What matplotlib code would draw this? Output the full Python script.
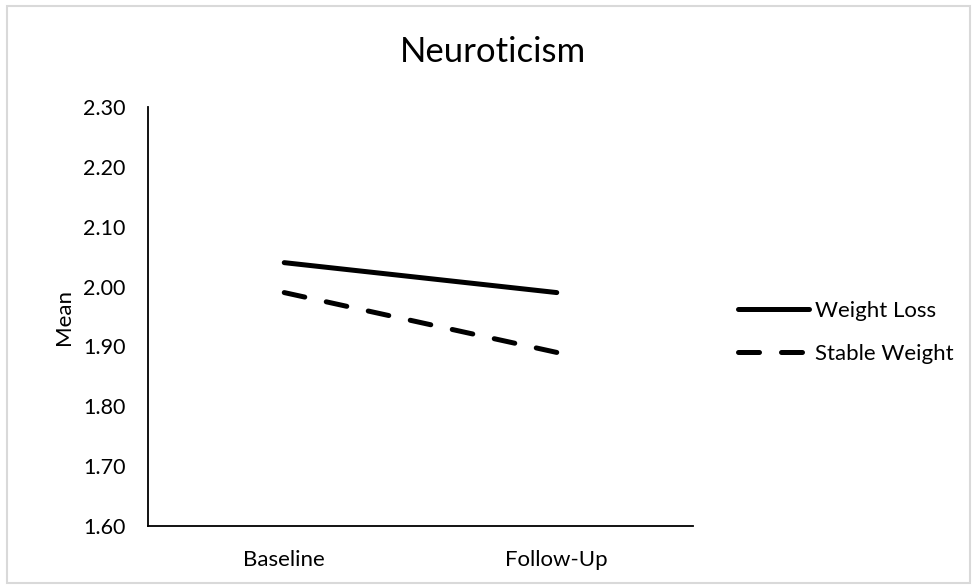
import matplotlib
matplotlib.use("Agg")
import matplotlib.pyplot as plt
from matplotlib.patches import Rectangle

# data
times = ["Baseline", "Follow-Up"]
weight_loss = [2.04, 1.99]
stable_weight = [1.99, 1.89]
y_ticks = [1.60, 1.70, 1.80, 1.90, 2.00, 2.10, 2.20, 2.30]

plt.rcParams['font.family'] = ['Lato', 'DejaVu Sans']

fig = plt.figure(figsize=(9.77, 5.88), dpi=100)
ax = fig.add_axes([0.1515, 0.1054, 0.5578, 0.7126])

# light grey border round the chart area
fig.patches.append(Rectangle((0.007, 0.008), 0.986, 0.982, transform=fig.transFigure,
                             fill=False, edgecolor="#d9d9d9", linewidth=1.5))

x = range(len(times))
ax.plot(x, weight_loss, color="black", linewidth=3.6, solid_capstyle="round",
        label="Weight Loss")
ax.plot(x, stable_weight, color="black", linewidth=3.6, dash_capstyle="round",
        dashes=(4.2, 4.4), label="Stable Weight")

ax.set_xlim(-0.5, 1.5)
ax.set_ylim(1.60, 2.30)
ax.set_xticks(list(x))
ax.set_xticklabels(times, fontsize=16)
ax.set_yticks(y_ticks)
ax.set_yticklabels(["%.2f" % v for v in y_ticks], fontsize=15.5)
ax.tick_params(axis="y", length=0, pad=16)
ax.tick_params(axis="x", length=0, pad=17)

for side in ["top", "right"]:
    ax.spines[side].set_visible(False)
for side in ["left", "bottom"]:
    ax.spines[side].set_linewidth(1.3)

ax.set_ylabel("Mean", fontsize=16, labelpad=7)
fig.text(0.505, 0.912, "Neuroticism", fontsize=25, ha="center", va="center")

ax.legend(loc="center left", bbox_to_anchor=(1.045, 0.462), frameon=False, fontsize=16,
          handlelength=3.2, handletextpad=0.3, labelspacing=1.04)

fig.savefig("out.png", dpi=100)
